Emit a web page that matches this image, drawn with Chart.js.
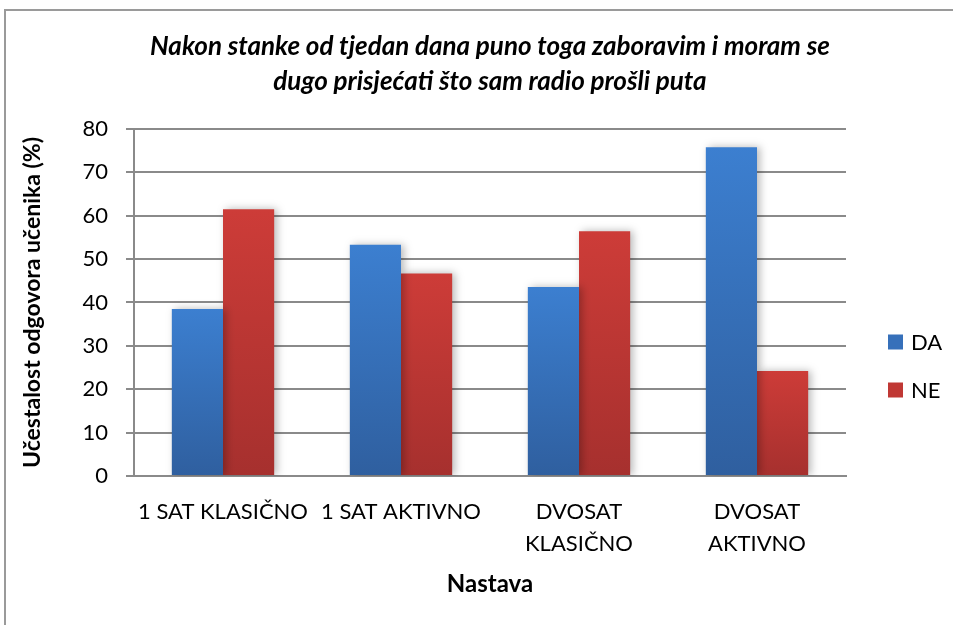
<!DOCTYPE html>
<html>
<head>
<meta charset="utf-8">
<script src="https://cdn.jsdelivr.net/npm/chart.js@4.4.1/dist/chart.umd.min.js"></script>
<style>
  html, body { margin: 0; padding: 0; background: #ffffff; }
  #wrap { position: relative; width: 953px; height: 625px; overflow: hidden; background: #ffffff; }
  #frame { position: absolute; left: 4px; top: 9px; width: 1000px; height: 700px;
           border-left: 2px solid #9a9a9a; border-top: 2px solid #9a9a9a; pointer-events: none; }
  canvas { position: absolute; left: 0; top: 0; }
</style>
</head>
<body>
<div id="wrap">
  <canvas id="c" width="953" height="625"></canvas>
  <div id="frame"></div>
</div>
<script>
// ---- data ----
const chartTitle = ["Nakon stanke od tjedan dana puno toga zaboravim i moram se",
                    "dugo prisjećati što sam radio prošli puta"];
const categories = ["1 SAT KLASIČNO", "1 SAT AKTIVNO", ["DVOSAT", "KLASIČNO"], ["DVOSAT", "AKTIVNO"]];
const seriesNames = ["DA", "NE"];
const valuesDA = [38.5, 53.3, 43.6, 75.8];
const valuesNE = [61.5, 46.7, 56.4, 24.2];
const yTicks = [0, 10, 20, 30, 40, 50, 60, 70, 80];
const yTitle = "Učestalost odgovora učenika (%)";
const xTitle = "Nastava";

// ---- styles ----
const FONT = "Lato, 'Open Sans', 'DejaVu Sans', sans-serif";
const colorsTop = ["#3c7fd0", "#cd3c38"];
const colorsBottom = ["#2f5f9f", "#a6302e"];
const legendColors = ["#3670ba", "#c03834"];

function barGradient(i) {
  return function (ctx) {
    const chart = ctx.chart;
    const ys = chart.scales && chart.scales.y;
    if (ctx.type !== 'data' || !ys || !chart.chartArea) return colorsTop[i];
    const yTop = ys.getPixelForValue(ctx.raw);
    const yBot = ys.getPixelForValue(0);
    if (!isFinite(yTop) || !isFinite(yBot) || yTop === yBot) return colorsTop[i];
    const g = chart.ctx.createLinearGradient(0, yTop, 0, yBot);
    g.addColorStop(0, colorsTop[i]);
    g.addColorStop(1, colorsBottom[i]);
    return g;
  };
}

const shadowPlugin = {
  id: 'barShadow',
  beforeDatasetsDraw(chart) {
    const c = chart.ctx;
    c.save();
    c.shadowColor = 'rgba(0,0,0,0.28)';
    c.shadowBlur = 8;
    c.shadowOffsetX = 3;
    c.shadowOffsetY = 0;
  },
  afterDatasetsDraw(chart) { chart.ctx.restore(); }
};

const legendPlugin = {
  id: 'sideLegend',
  afterDraw(chart) {
    const c = chart.ctx;
    c.save();
    const x0 = 888, ys = [342, 390], box = 15;
    c.font = "22px " + FONT;
    c.textBaseline = 'middle';
    c.textAlign = 'left';
    chart.data.datasets.forEach((ds, i) => {
      c.fillStyle = legendColors[i];
      c.fillRect(x0, ys[i] - box / 2, box, box);
      c.fillStyle = '#000000';
      c.fillText(ds.label, x0 + 23, ys[i] + 1);
    });
    c.restore();
  }
};

const gridColor = '#8a8a8a';

new Chart(document.getElementById('c'), {
  type: 'bar',
  data: {
    labels: categories,
    datasets: [
      { label: seriesNames[0], data: valuesDA, backgroundColor: barGradient(0) },
      { label: seriesNames[1], data: valuesNE, backgroundColor: barGradient(1) }
    ]
  },
  options: {
    responsive: false,
    animation: false,
    devicePixelRatio: 1,
    layout: { padding: { left: 14, right: 107, top: 0, bottom: 0 } },
    datasets: { bar: { categoryPercentage: 0.575, barPercentage: 1.0, borderWidth: 0 } },
    plugins: {
      legend: { display: false },
      tooltip: { enabled: false },
      title: {
        display: true,
        fullSize: false,
        text: chartTitle,
        color: '#000000',
        font: { family: FONT, size: 26, weight: 'bold', style: 'italic', lineHeight: 1.346 },
        padding: { top: 29.5, bottom: 29.5 }
      }
    },
    scales: {
      x: {
        grid: { display: false, drawTicks: false },
        border: { display: true, color: gridColor, width: 2 },
        ticks: {
          color: '#000000', maxRotation: 0, autoSkip: false, padding: 20,
          font: { family: FONT, size: 22, lineHeight: 1.45 }
        },
        title: {
          display: true, text: xTitle, color: '#000000',
          font: { family: FONT, size: 24, weight: 'bold', lineHeight: 1.2 },
          padding: { top: 4, bottom: 26 }
        },
        afterFit(s) { s.height = 149; }
      },
      y: {
        min: 0, max: 80,
        afterBuildTicks(s) { s.ticks = yTicks.map(v => ({ value: v })); },
        grid: { color: gridColor, lineWidth: 2, tickLength: 8, drawTicks: true },
        border: { display: true, color: gridColor, width: 2 },
        ticks: {
          color: '#000000', padding: 18,
          font: { family: FONT, size: 22 }
        },
        title: {
          display: true, text: yTitle, color: '#000000',
          font: { family: FONT, size: 23, weight: 'bold', lineHeight: 1.2 },
          padding: { top: 5, bottom: 0 }
        },
        afterFit(s) { s.width = 120; }
      }
    }
  },
  plugins: [shadowPlugin, legendPlugin]
});
</script>
</body>
</html>
